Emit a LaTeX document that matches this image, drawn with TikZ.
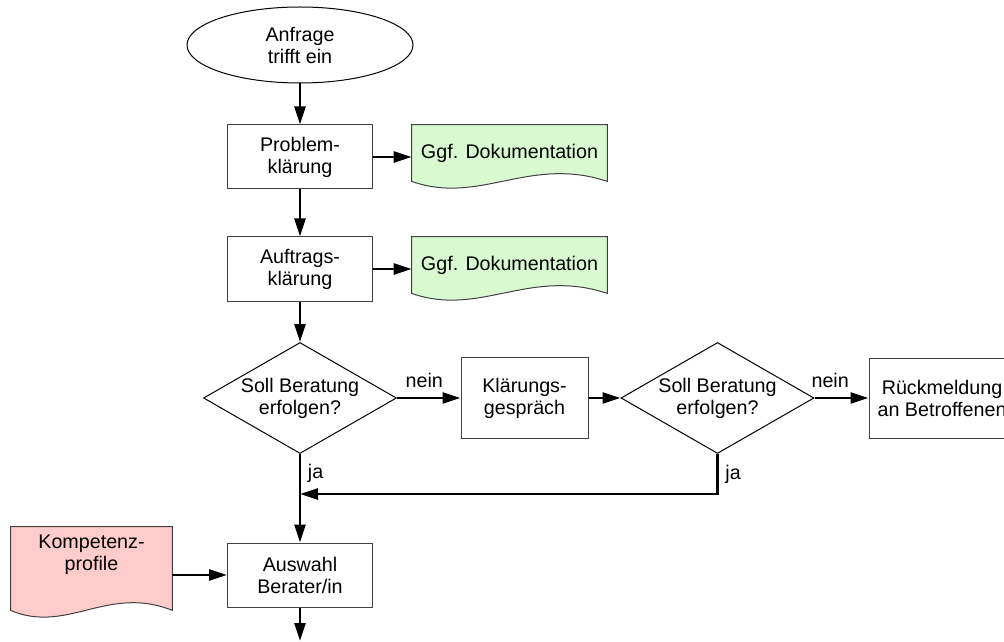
\documentclass[tikz,border=0pt]{standalone}
\usepackage{fontspec}
\setmainfont{Liberation Sans}
\usetikzlibrary{shapes.geometric,arrows.meta,calc,backgrounds}

\definecolor{dokgruen}{RGB}{217,250,209}
\definecolor{dokrot}{RGB}{255,204,204}
\definecolor{randgrau}{RGB}{64,64,64}

\tikzset{
  start/.style={shape=ellipse,draw=black,line width=0.5pt,align=center,inner sep=0pt,minimum width=113pt,minimum height=38pt},
  schritt/.style={shape=rectangle,draw=randgrau,line width=0.5pt,align=center,inner sep=0pt,minimum width=72.5pt,minimum height=32pt},
  frage/.style={shape=diamond,draw=black,line width=0.5pt,inner sep=0pt,minimum width=96.5pt,minimum height=55.5pt},
  doku/.style={shape=rectangle,align=center,inner sep=0pt,minimum height=28pt},
  dokrand/.style={draw=randgrau,line width=0.5pt},
  pfeil/.style={line width=1.3pt,-{Triangle[length=9pt,width=5.5pt]}},
  linie/.style={line width=1.3pt}
}

% #1 Name, #2 Farbe, #3 Position, #4 Breite, #5 Zusatzhoehe unten, #6 Text
\newcommand{\dokument}[6]{%
  \node[doku,minimum width=#4] (#1) at #3 {#6};
  \begin{scope}[on background layer]
    \draw[dokrand,fill=#2] (#1.north west) -- (#1.north east) -- ([yshift=-#5]#1.south east)
      .. controls ($([yshift=-#5]#1.south west)!0.6!([yshift=-#5]#1.south east)+(0,-26)$)
      and ($([yshift=-#5]#1.south west)!0.35!([yshift=-#5]#1.south east)+(0,24)$)
      .. ([yshift=-#5]#1.south west) -- cycle;
  \end{scope}
}

\begin{document}
\begin{tikzpicture}[x=0.5pt,y=-0.5pt,font=\fontsize{9.85}{11}\selectfont]
\useasboundingbox (0,0) rectangle (1004,641);
\clip (0,0) rectangle (1004,641);

\node[start] (anfrage) at (300,45) {Anfrage\\trifft ein};
\node[schritt] (problem) at (300,157) {Problem-\\klärung};
\node[schritt] (auftrag) at (300,269) {Auftrags-\\klärung};
\node[frage,label={[align=center]center:{Soll Beratung\\erfolgen?}}] (frage1) at (300,398) {};
\node[schritt,minimum width=63.5pt,minimum height=40.5pt] (klaerung) at (524.5,398) {Klärungs-\\gespräch};
\node[frage,label={[align=center]center:{Soll Beratung\\erfolgen?}}] (frage2) at (717.5,398) {};
\node[schritt,minimum width=73pt,minimum height=40pt] (rueckmeldung) at (942,398) {Rückmeldung\\an Betroffenen};
\node[schritt] (auswahl) at (300,575) {Auswahl\\Berater/in};

\dokument{doku1}{dokgruen}{(509.5,153)}{97.5pt}{0pt}{Ggf. Dokumentation}
\dokument{doku2}{dokgruen}{(509.5,265)}{97.5pt}{0pt}{Ggf. Dokumentation}
\dokument{kompetenz}{dokrot}{(91.5,555)}{80.5pt}{13.5pt}{Kompetenz-\\profile}

\coordinate (zusammen) at (300,494);
\coordinate (ausgang) at (300,641);

\draw[pfeil] (anfrage.south) -- (problem.north);
\draw[pfeil] (problem.east) -- (problem.east -| doku1.west);
\draw[pfeil] (problem.south) -- (auftrag.north);
\draw[pfeil] (auftrag.east) -- (auftrag.east -| doku2.west);
\draw[pfeil] (auftrag.south) -- (frage1.north);
\draw[pfeil] (frage1.east) -- node[above=1pt,pos=0.43] {nein} (klaerung.west);
\draw[pfeil] (klaerung.east) -- (frage2.west);
\draw[pfeil] (frage2.east) -- node[above=1pt,pos=0.29] {nein} (rueckmeldung.west);
\draw[pfeil] (frage1.south) -- node[right,pos=0.22] {ja} (auswahl.north);
\draw[pfeil] (frage2.south) |- node[right,pos=0.25] {ja} (zusammen);
\draw[pfeil] (auswahl.west -| kompetenz.east) -- (auswahl.west);
\draw[pfeil] (auswahl.south) -- (ausgang);

\end{tikzpicture}
\end{document}
